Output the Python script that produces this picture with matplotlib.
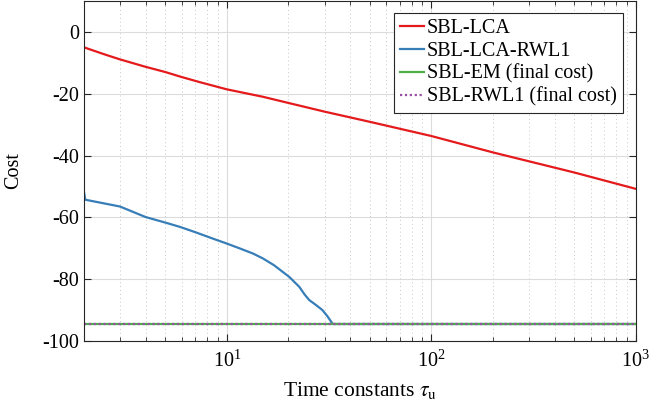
import matplotlib
matplotlib.use('Agg')
import matplotlib.pyplot as plt
from matplotlib.ticker import LogLocator, NullFormatter

plt.rcParams['font.family'] = 'Liberation Serif'
plt.rcParams['mathtext.fontset'] = 'stix'
plt.rcParams['axes.unicode_minus'] = False
plt.rcParams['font.size'] = 14

# SBL-LCA cost vs time constant
tau_red = [2, 2.5, 3, 4, 5, 6, 7.4, 10, 15, 20, 30, 50, 100, 200, 500, 1000]
cost_red = [-5, -7.2, -8.9, -11.3, -13, -14.6, -16.3, -18.6, -21, -23, -25.8,
            -29.1, -33.7, -39, -45.5, -50.8]

# SBL-LCA-RWL1 cost vs time constant
tau_blue = [2, 2.03, 3, 4, 5, 5.9, 7, 8.55, 10, 11.5, 13.4, 15, 17, 20.2, 22.6,
            24, 25.3, 27.3, 29.3, 31, 32.9, 1000]
cost_blue = [-51.8, -54.3, -56.5, -59.9, -61.7, -63.1, -64.8, -66.9, -68.5, -70,
             -71.7, -73.3, -75.5, -79.3, -82.5, -85, -86.8, -88.4, -90, -92,
             -94.5, -94.5]

# final costs of the batch methods
xlim = [2, 1000]
cost_em = -94.6
cost_rwl1 = -94.6

yticks = [0, -20, -40, -60, -80, -100]

fig = plt.figure(figsize=(6.52, 4.19), dpi=100)
ax = fig.add_axes([0.1288, 0.1862, 0.8466, 0.8115])

ax.plot(tau_red, cost_red, color='#e41a1c', lw=1.6, label='SBL-LCA')
ax.plot(tau_blue, cost_blue, color='#377eb8', lw=1.6, label='SBL-LCA-RWL1')
ax.plot(xlim, [cost_em, cost_em], color='#4daf4a', lw=1.6, label='SBL-EM (final cost)')
ax.plot(xlim, [cost_rwl1, cost_rwl1], color='#984ea3', lw=1.6, ls=(0, (1, 1.2)),
        label='SBL-RWL1 (final cost)')

ax.set_xscale('log')
ax.set_xlim(xlim)
ax.set_ylim(-100, 10)
ax.set_yticks(yticks)
ax.set_yticklabels([str(v) for v in yticks])
ax.xaxis.set_minor_locator(LogLocator(base=10, subs=range(2, 10)))
ax.xaxis.set_minor_formatter(NullFormatter())

ax.grid(True, which='major', color='#dcdcdc', lw=0.8, ls='-')
ax.grid(True, which='minor', axis='x', color='#c8c8c8', lw=0.7, ls=(0, (1, 3)))
ax.set_axisbelow(True)

ax.tick_params(which='both', direction='in', top=True, right=True, color='#262626',
               labelsize=14.5)
ax.tick_params(which='major', length=5, width=0.8)
ax.tick_params(which='minor', length=3, width=0.6)
ax.tick_params(axis='x', pad=7)
for s in ax.spines.values():
    s.set_color('#262626')
    s.set_linewidth(0.8)

ax.set_xlabel(r'Time constants $\tau_{\mathrm{u}}$', fontsize=15.5, labelpad=6)
ax.set_ylabel('Cost', fontsize=14.5, labelpad=14)

leg = ax.legend(loc='upper right', bbox_to_anchor=(0.9765, 0.9647), fontsize=14.5,
                handlelength=1.2, handletextpad=0.15, borderpad=0.3,
                labelspacing=0.18, borderaxespad=0, fancybox=False,
                framealpha=1)
leg.get_frame().set_edgecolor('#262626')
leg.get_frame().set_linewidth(0.8)

fig.savefig('out.png', dpi=100)
